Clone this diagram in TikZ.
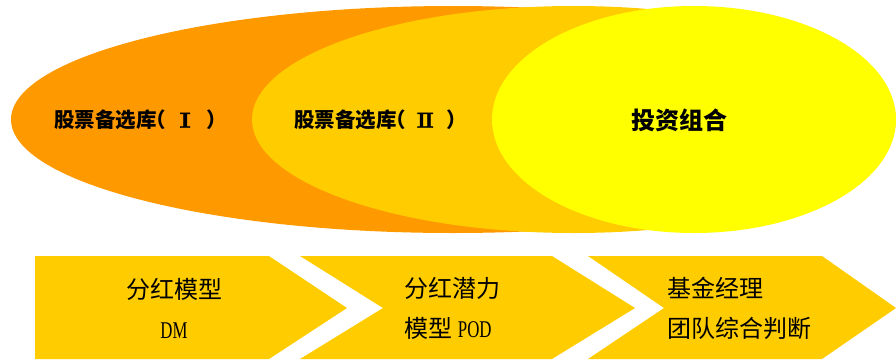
\documentclass[tikz,border=0pt]{standalone}
\usepackage{fontspec}
\setmainfont{Liberation Serif}
\newfontfamily\cjk{Noto Sans CJK SC}
\newfontfamily\latin[FakeStretch=0.7]{Liberation Serif}
\newfontfamily\numeral[FakeBold=2]{DejaVu Serif}
\definecolor{deeporange}{HTML}{FF9900}
\definecolor{goldfill}{HTML}{FFCC00}
\definecolor{lightyellow}{HTML}{FFFF00}
\begin{document}
\begin{tikzpicture}[x=1pt,y=-1pt,
    pooltext/.style={font=\cjk\bfseries\fontsize{20.5}{24}\selectfont,anchor=west,inner sep=0pt},
    steptext/.style={font=\cjk\fontsize{24}{40}\selectfont}]
    \useasboundingbox (0,0) rectangle (896,362);
    % nested pools
    \fill [deeporange] (453,119.5) ellipse [x radius=442pt,y radius=113.5pt];
    \fill [goldfill] (574,119.5) ellipse [x radius=322pt,y radius=113.5pt];
    \fill [lightyellow] (694,119.5) ellipse [x radius=202pt,y radius=113.5pt];
    \node [pooltext] (pool1) at (54,120)
        {股票备选库\kern-0.55em（\makebox[38.6pt][c]{\mdseries\numeral\scalebox{1.6}[1]{Ⅰ}}\kern2pt）};
    \node [pooltext] (pool2) at (294,120)
        {股票备选库\kern-0.55em（\makebox[38.6pt][c]{\mdseries\numeral\scalebox{1.3}[1]{Ⅱ}}\kern2pt）};
    \node [font=\cjk\bfseries\fontsize{24}{28}\selectfont] (portfolio) at (679,120) {投资组合};
    % process steps
    \fill [goldfill] (35,256) -- (269,256) -- (347,308) -- (269,359) -- (35,359) -- cycle;
    \fill [goldfill] (300,256) -- (552,256) -- (635,308) -- (552,359) -- (300,359) -- (383,308) -- cycle;
    \fill [goldfill] (588,256) -- (822,256) -- (896,308) -- (822,359) -- (588,359) -- (664,308) -- cycle;
    \node [steptext,align=center] (dm) at (174,308) {分红模型\\\latin DM};
    \node [steptext,align=left,anchor=west] (pod) at (401,308) {分红潜力\\模型 {\latin POD}};
    \node [steptext,align=left,anchor=west] (team) at (664,308) {基金经理\\团队综合判断};
\end{tikzpicture}
\end{document}
